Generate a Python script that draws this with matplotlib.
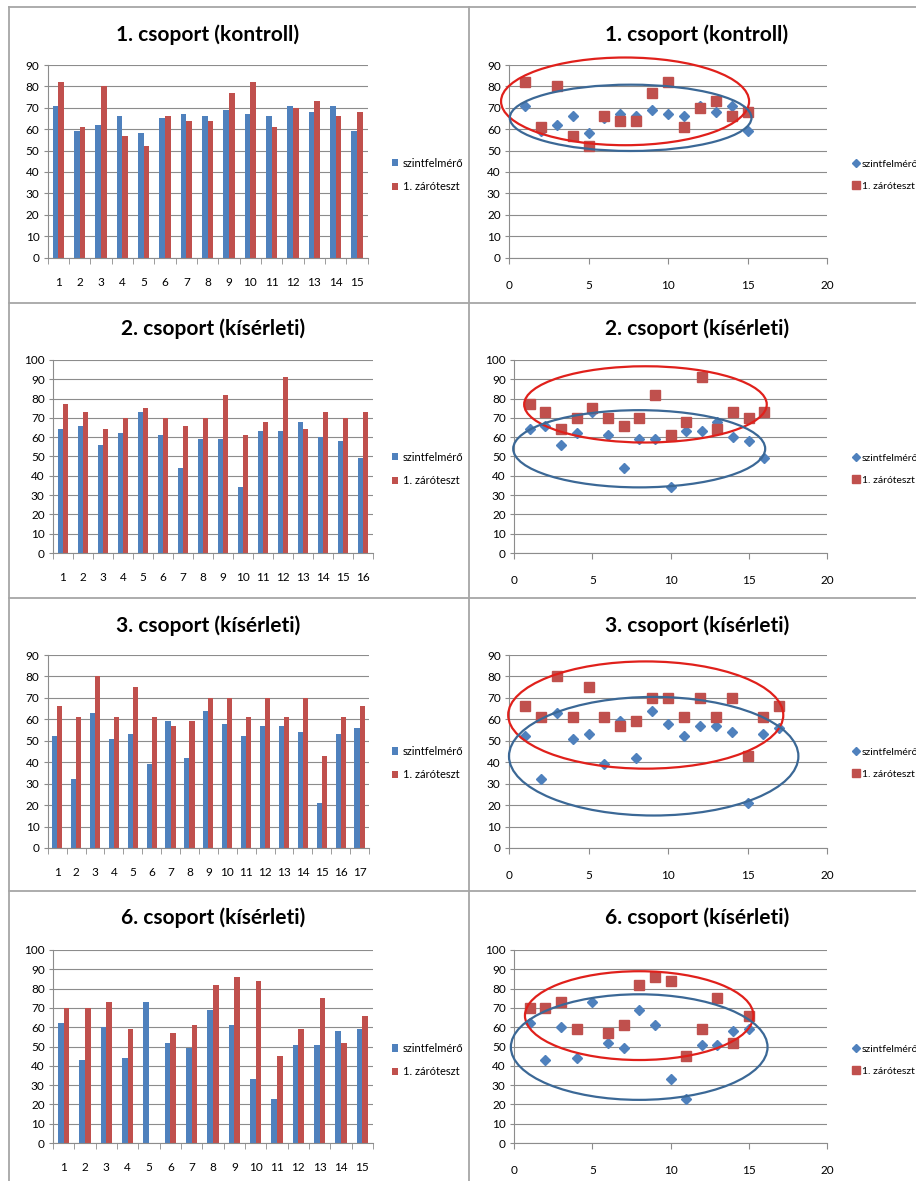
import numpy as np
import matplotlib.pyplot as plt
from matplotlib.patches import Ellipse
from matplotlib.lines import Line2D

plt.rcParams['font.family'] = ['Lato', 'DejaVu Sans']

# pontszámok csoportonként: szintfelmérő / 1. záróteszt
titles = ['1. csoport (kontroll)', '2. csoport (kísérleti)',
          '3. csoport (kísérleti)', '6. csoport (kísérleti)']
series_names = ['szintfelmérő', '1. záróteszt']

g1_szint = [71, 59, 62, 66, 58, 65, 67, 66, 69, 67, 66, 71, 68, 71, 59]
g1_zaro = [82, 61, 80, 57, 52, 66, 64, 64, 77, 82, 61, 70, 73, 66, 68]

g2_szint = [64, 66, 56, 62, 73, 61, 44, 59, 59, 34, 63, 63, 68, 60, 58, 49]
g2_zaro = [77, 73, 64, 70, 75, 70, 66, 70, 82, 61, 68, 91, 64, 73, 70, 73]

g3_szint = [52, 32, 63, 51, 53, 39, 59, 42, 64, 58, 52, 57, 57, 54, 21, 53, 56]
g3_zaro = [66, 61, 80, 61, 75, 61, 57, 59, 70, 70, 61, 70, 61, 70, 43, 61, 66]

g6_szint = [62, 43, 60, 44, 73, 52, 49, 69, 61, 33, 23, 51, 51, 58, 59]
g6_zaro = [70, 70, 73, 59, np.nan, 57, 61, 82, 86, 84, 45, 59, 75, 52, 66]

groups = [(g1_szint, g1_zaro), (g2_szint, g2_zaro),
          (g3_szint, g3_zaro), (g6_szint, g6_zaro)]
y_max = [90, 100, 90, 100]

# kézzel rajzolt kiemelő ellipszisek (középpont x, y, szélesség, magasság)
red_ellipses = [(7.3, 73, 15.6, 41), (8.4, 77, 15.5, 39.5),
                (8.6, 62, 17.3, 50), (8.0, 66, 14.6, 46)]
blue_ellipses = [(7.65, 65.3, 15.2, 31), (8.0, 54, 16.1, 40),
                 (9.1, 42.8, 18.2, 55.3), (8.0, 49.7, 16.4, 54.7)]

BLUE = '#4F81BD'
RED = '#C0504D'
GRID = '#8C8C8C'

W, H = 916, 1181
fig = plt.figure(figsize=(W / 100, H / 100), dpi=100)


def box(l, t, r, b):
    return [l / W, 1 - b / H, (r - l) / W, (b - t) / H]


def style_axes(ax, ymax):
    ax.set_ylim(0, ymax)
    ax.set_yticks(np.arange(0, ymax + 1, 10))
    ax.yaxis.grid(True, color=GRID, lw=0.8)
    ax.set_axisbelow(True)
    for s in ['top', 'right']:
        ax.spines[s].set_visible(False)
    for s in ['left', 'bottom']:
        ax.spines[s].set_color(GRID)
        ax.spines[s].set_linewidth(0.8)
    ax.tick_params(axis='y', length=3, color=GRID, labelsize=8.5, pad=3)


# sorok: (tengely teteje, alja, cím y, jelmagyarázat közép y)
rows = [(65, 257.5, 35, 175), (360, 553, 329, 469),
        (655, 848, 626, 763), (950, 1143, 918, 1060)]
bar_x = [(47.7, 367.7), (53, 373), (47.7, 369), (53, 373)]
sc_x = [(509, 827), (514, 827), (509, 827), (514, 827)]

for i, (szint, zaro) in enumerate(groups):
    top, bottom, ty, ly = rows[i]
    n = len(szint)
    x = np.arange(1, n + 1)

    # oszlopdiagram
    ax = fig.add_axes(box(bar_x[i][0], top, bar_x[i][1], bottom))
    w = 0.27
    b1 = ax.bar(x - w / 2, szint, w, color=BLUE, label=series_names[0])
    b2 = ax.bar(x + w / 2, zaro, w, color=RED, label=series_names[1])
    style_axes(ax, y_max[i])
    ax.set_xlim(0.5, n + 0.5)
    ax.set_xticks(x)
    ax.set_xticklabels([str(v) for v in x])
    ax.set_xticks(np.arange(0.5, n + 1), minor=True)
    ax.tick_params(axis='x', which='major', length=0, labelsize=8.5, pad=14)
    ax.tick_params(axis='x', which='minor', length=4, color=GRID)
    fig.text((bar_x[i][0] + bar_x[i][1]) / 2 / W, 1 - ty / H, titles[i],
             ha='center', va='center', fontsize=15, fontweight='bold')
    ax.legend(handles=[b1, b2], loc='center left',
              bbox_to_anchor=(386 / W, 1 - ly / H),
              bbox_transform=fig.transFigure, frameon=False, fontsize=8,
              handlelength=0.6, handleheight=0.6, handletextpad=0.4,
              labelspacing=1.1, borderpad=0)

    # pontdiagram
    ax2 = fig.add_axes(box(sc_x[i][0], top, sc_x[i][1], bottom))
    l1, = ax2.plot(x, szint, 'D', color=BLUE, ms=5, ls='none',
                   label=series_names[0])
    l2, = ax2.plot(x, zaro, 's', color=RED, ms=7.5, ls='none',
                   label=series_names[1])
    style_axes(ax2, y_max[i])
    ax2.set_xlim(0, 20)
    ax2.set_xticks([0, 5, 10, 15, 20])
    ax2.tick_params(axis='x', length=4, color=GRID, labelsize=8.5, pad=12)
    cx, cy, ew, eh = red_ellipses[i]
    ax2.add_patch(Ellipse((cx, cy), ew, eh, fill=False, ec='#E0201B',
                          lw=1.6, clip_on=False, zorder=4))
    cx, cy, ew, eh = blue_ellipses[i]
    ax2.add_patch(Ellipse((cx, cy), ew, eh, fill=False, ec='#3B6896',
                          lw=1.6, clip_on=False, zorder=4))
    fig.text(697 / W, 1 - ty / H, titles[i],
             ha='center', va='center', fontsize=15, fontweight='bold')
    ax2.legend(handles=[l1, l2], loc='center left',
               bbox_to_anchor=(848 / W, 1 - ly / H),
               bbox_transform=fig.transFigure, frameon=False, fontsize=7.5,
               handlelength=0.6, handletextpad=0.25, labelspacing=1.2,
               borderpad=0, markerscale=0.75)

# cellák keretei
border = dict(color='#A6A6A6', lw=1.3, transform=fig.transFigure)
for yy in [7, 303, 598, 891]:
    fig.add_artist(Line2D([9 / W, 1], [1 - yy / H, 1 - yy / H], **border))
for xx in [9, 469]:
    fig.add_artist(Line2D([xx / W, xx / W], [0, 1 - 7 / H], **border))

plt.savefig('out.png', dpi=100)
